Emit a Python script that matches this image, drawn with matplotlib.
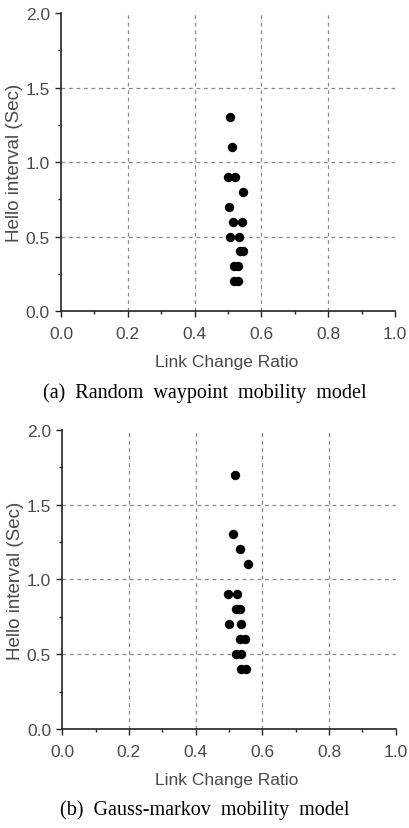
import matplotlib
matplotlib.use("Agg")
import matplotlib.pyplot as plt
from matplotlib.ticker import MultipleLocator

# Random waypoint mobility model
rw_ratio = [0.506, 0.513, 0.499, 0.521, 0.544, 0.502, 0.516, 0.541,
            0.506, 0.532, 0.536, 0.546, 0.517, 0.531, 0.519, 0.531]
rw_hello = [1.3, 1.1, 0.9, 0.9, 0.8, 0.7, 0.6, 0.6,
            0.5, 0.5, 0.4, 0.4, 0.3, 0.3, 0.2, 0.2]

# Gauss-markov mobility model
gm_ratio = [0.518, 0.513, 0.533, 0.558, 0.498, 0.523, 0.522, 0.532,
            0.501, 0.535, 0.533, 0.548, 0.521, 0.535, 0.535, 0.550]
gm_hello = [1.7, 1.3, 1.2, 1.1, 0.9, 0.9, 0.8, 0.8,
            0.7, 0.7, 0.6, 0.6, 0.5, 0.5, 0.4, 0.4]

x_label = "Link Change Ratio"
y_label = "Hello interval (Sec)"
captions = ["(a)  Random  waypoint  mobility  model",
            "(b)  Gauss-markov  mobility  model"]

x_grid = [0.2, 0.4, 0.6, 0.8]
y_grid = [0.5, 1.0, 1.5]

TICK_GRAY = "#4a4a4a"
SANS = ["Liberation Sans", "DejaVu Sans"]
SERIF = ["Liberation Serif", "DejaVu Serif"]

fig = plt.figure(figsize=(4.09, 8.29), dpi=100)

panels = [
    (rw_ratio, rw_hello, [0.149, 0.6236, 0.817, 0.3595], 0.563, 0.526),
    (gm_ratio, gm_hello, [0.152, 0.1194, 0.8155, 0.361], 0.059, 0.023),
]

for (xs, ys, rect, lab_y, cap_y), caption in zip(panels, captions):
    ax = fig.add_axes(rect)
    ax.scatter(xs, ys, s=46, color="black", zorder=3, linewidths=0)

    ax.set_xlim(0, 1.0)
    ax.set_ylim(0, 2.0)
    ax.xaxis.set_major_locator(MultipleLocator(0.2))
    ax.xaxis.set_minor_locator(MultipleLocator(0.1))
    ax.yaxis.set_major_locator(MultipleLocator(0.5))
    ax.yaxis.set_minor_locator(MultipleLocator(0.25))
    ax.xaxis.set_major_formatter(plt.FormatStrFormatter("%.1f"))
    ax.yaxis.set_major_formatter(plt.FormatStrFormatter("%.1f"))

    for side in ("top", "right"):
        ax.spines[side].set_visible(False)
    for side in ("left", "bottom"):
        ax.spines[side].set_color("#222222")
        ax.spines[side].set_linewidth(1.2)

    ax.tick_params(which="major", direction="out", length=4, width=1,
                   colors="#222222", labelcolor=TICK_GRAY, labelsize=12.5)
    ax.tick_params(axis="x", which="major", pad=7)
    ax.tick_params(axis="y", which="major", pad=4)
    ax.tick_params(which="minor", direction="out", length=2.5, width=1,
                   colors="#222222")
    for lbl in ax.get_xticklabels() + ax.get_yticklabels():
        lbl.set_family(SANS)

    # dashed grid on the interior major ticks only
    grid_kw = dict(color="#8a8a8a", linestyle=(0, (3, 3)), linewidth=0.9,
                   zorder=1)
    for gx in x_grid:
        ax.axvline(gx, **grid_kw)
    for gy in y_grid:
        ax.axhline(gy, **grid_kw)

    ax.set_ylabel(y_label, family=SANS, fontsize=13.5, color=TICK_GRAY)
    ax.yaxis.set_label_coords(-0.114, 0.5)
    fig.text(0.555, lab_y, x_label, family=SANS, fontsize=12.5,
             color=TICK_GRAY, ha="center", va="center")
    fig.text(0.5, cap_y, caption, family=SERIF, fontsize=14.5,
             color="black", ha="center", va="center")

fig.savefig("out.png", dpi=100)
